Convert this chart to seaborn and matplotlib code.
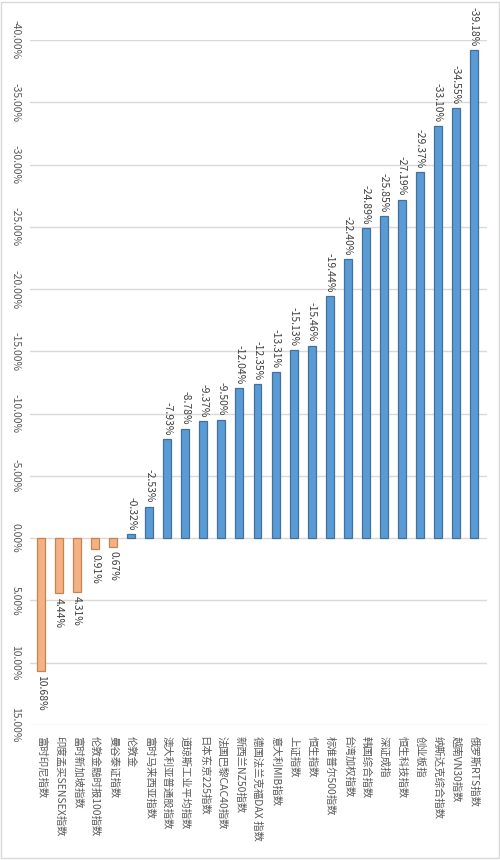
import matplotlib
matplotlib.use("Agg")
import matplotlib.pyplot as plt
import seaborn as sns
import pandas as pd
from matplotlib.patches import Rectangle

# index names, left to right
indices = [
    "富时印尼指数", "印度孟买SENSEX指数", "富时新加坡指数", "伦敦金融时报100指数",
    "曼谷泰证指数", "伦敦金", "富时马来西亚指数", "澳大利亚普通股指数",
    "道琼斯工业平均指数", "日本东京225指数", "法国巴黎CAC40指数", "新西兰NZ50指数",
    "德国法兰克福DAX 指数", "意大利MIB指数", "上证指数", "恒生指数",
    "标准普尔500指数", "台湾加权指数", "韩国综合指数", "深证成指",
    "恒生科技指数", "创业板指", "纳斯达克综合指数", "越南VN30指数", "俄罗斯RTS指数",
]
# change in percent
changes = [
    10.68, 4.44, 4.31, 0.91, 0.67, -0.32, -2.53, -7.93, -8.78, -9.37, -9.50,
    -12.04, -12.35, -13.31, -15.13, -15.46, -19.44, -22.40, -24.89, -25.85,
    -27.19, -29.37, -33.10, -34.55, -39.18,
]
value_ticks = [-40, -35, -30, -25, -20, -15, -10, -5, 0, 5, 10, 15]

df = pd.DataFrame({"index": indices, "change": changes})
df["sign"] = ["up" if v > 0 else "down" for v in changes]

sns.set_theme(style="white")
plt.rcParams["font.family"] = ["Noto Sans CJK SC", "DejaVu Sans"]

fig = plt.figure(figsize=(5, 8.6), dpi=100)
ax = fig.add_axes([0.06, 0.157, 0.914, 0.7965])

sns.barplot(
    data=df, x="index", y="change", hue="sign",
    palette={"up": "#F4B183", "down": "#5B9BD5"}, saturation=1,
    dodge=False, width=0.44, legend=False, ax=ax, zorder=3,
)
# darker outline to hint at the 3D look
for bar in ax.patches:
    fc = bar.get_facecolor()
    bar.set_edgecolor("#C9834F" if fc[0] > 0.8 else "#41719C")
    bar.set_linewidth(0.9)

# data labels
for i, v in enumerate(changes):
    if v < 0:
        ax.annotate(f"{v:.2f}%", (i, v), xytext=(0, 3), textcoords="offset points",
                    rotation=-90, ha="center", va="bottom", fontsize=7.5, color="#404040")
    else:
        ax.annotate(f"{v:.2f}%", (i, v), xytext=(0, -3), textcoords="offset points",
                    rotation=-90, ha="center", va="top", fontsize=7.5, color="#404040")

ax.set_ylim(15, -40)
ax.set_xlim(-0.61, 24.72)
ax.set_yticks(value_ticks)
ax.set_yticklabels([f"{t:.2f}%" for t in value_ticks], rotation=-90,
                   va="center", ha="right", fontsize=7.5, color="#595959")
ax.set_xticks(range(len(indices)))
ax.set_xticklabels(indices, rotation=-90, ha="center", va="top",
                   fontsize=7.5, color="#595959")
ax.tick_params(axis="y", length=0, pad=7)
ax.tick_params(axis="x", length=0, pad=8)
ax.set_xlabel("")
ax.set_ylabel("")
ax.grid(axis="y", color="#D9D9D9", linewidth=1, zorder=0)
ax.grid(axis="x", visible=False)
for sp in ax.spines.values():
    sp.set_visible(False)

fig.patches.append(Rectangle((0.002, 0.002), 0.996, 0.996, transform=fig.transFigure,
                             fill=False, edgecolor="#D9D9D9", linewidth=1))

fig.savefig("out.png", dpi=100)
